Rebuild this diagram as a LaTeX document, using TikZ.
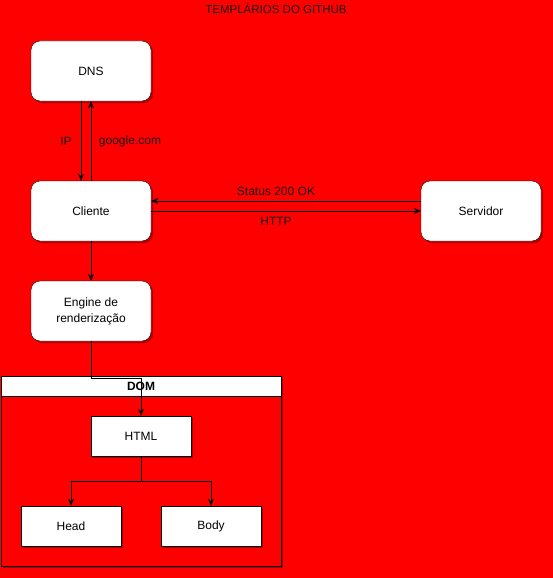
\documentclass[tikz,border=0pt]{standalone}
\usepackage{fontspec}
\setmainfont{Liberation Sans}
\usetikzlibrary{arrows.meta,shadows}
\begin{document}
\begin{tikzpicture}[x=1pt,y=-1pt,
  font=\fontsize{12}{14}\selectfont,
  shade/.style={drop shadow={shadow xshift=2pt,shadow yshift=-2pt,opacity=0.3,fill=black}},
  roundbox/.style={draw=black,fill=white,rounded corners=9pt,minimum width=120pt,minimum height=60pt,shade,align=center,inner sep=0pt},
  sqbox/.style={draw=black,fill=white,minimum width=100pt,minimum height=40pt,shade,inner sep=0pt},
  conn/.style={draw=black,line width=0.9pt,-{Stealth[length=7pt,width=6pt]}},
  lbl/.style={inner sep=0pt,text=black!90}
]
% background
\fill[red] (0,0) rectangle (553,578);
\useasboundingbox (0,0) rectangle (553,578);

% title
\node[lbl,font=\fontsize{11.5}{13}\selectfont] (title) at (276,9) {TEMPLÁRIOS DO GITHUB};

% top-level boxes
\node[roundbox] (dns) at (91,71) {DNS};
\node[roundbox] (cliente) at (91,211) {Cliente};
\node[roundbox] (servidor) at (481,211) {Servidor};
\node[roundbox] (engine) at (91,311) {Engine de\\[2pt]renderização};

% DOM container
\draw[black,line width=0.8pt,shade] (1,376) rectangle (281,566);
\fill[red] (1.4,396) rectangle (280.6,565.6);
\node[draw=black,line width=0.8pt,fill=white,minimum width=280pt,minimum height=20pt,inner sep=0pt,font=\fontsize{12}{14}\selectfont\bfseries] (dom) at (141,386) {DOM};
\draw[black,line width=0.8pt] (1,376) rectangle (281,566);

\node[sqbox] (html) at (141,436) {HTML};
\node[sqbox] (head) at (71,526) {Head};
\node[sqbox] (body) at (211,526) {Body};

% DNS exchange
\draw[conn] ([xshift=-10pt]dns.south) -- ([xshift=-10pt]cliente.north);
\draw[conn] (cliente.north) -- (dns.south);
\node[lbl] (ip) at (66,141) {IP};
\node[lbl] (gcom) at (130,141) {google.com};

% HTTP exchange
\draw[conn] ([yshift=10pt]servidor.west) -- ([yshift=10pt]cliente.east);
\draw[conn] (cliente.east) -- (servidor.west);
\node[lbl] (status) at (276,191) {Status 200 OK};
\node[lbl] (http) at (276,221) {HTTP};

% rendering pipeline
\draw[conn] (cliente.south) -- (engine.north);
\coordinate (bend) at (91,378);
\draw[conn] (engine.south) -- (bend) -| (html.north);
\coordinate (split) at (141,481);
\draw[conn] (html.south) -- (split) -| (head.north);
\draw[conn] (split) -| (body.north);
\end{tikzpicture}
\end{document}
